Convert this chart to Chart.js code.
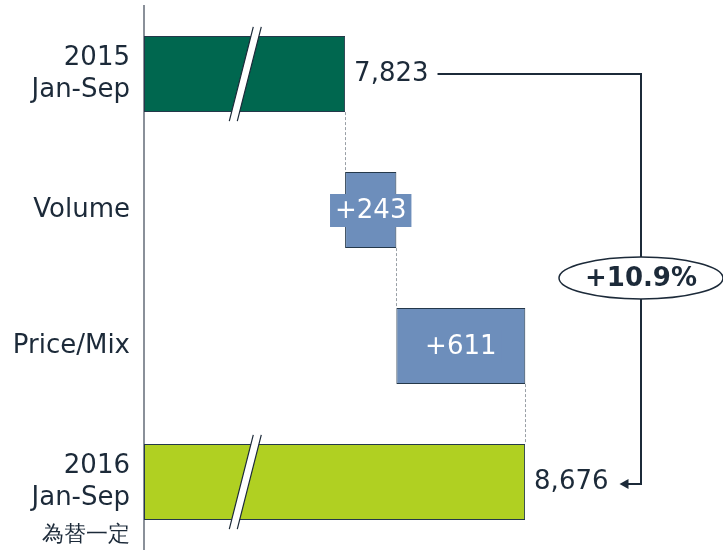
<!DOCTYPE html>
<html>
<head>
<meta charset="utf-8">
<script src="https://cdn.jsdelivr.net/npm/chart.js@4"></script>
<style>
  html, body { margin: 0; padding: 0; background: #fff; }
  #wrap { width: 723px; height: 550px; position: relative; }
</style>
</head>
<body>
<div id="wrap"><canvas id="grafico"></canvas></div>
<script>
// Datos del gráfico (cascada horizontal)
const categorias = [['2015', 'Jan-Sep'], 'Volume', 'Price/Mix', ['2016', 'Jan-Sep']];
const valorInicial = 7823;
const variaciones = [243, 611];
const valorFinal = 8676;
const etiquetas = ['7,823', '+243', '+611', '8,676'];
const nota = '為替一定';
const textoCrecimiento = '+10.9%';

// Escala con corte del eje
const ejeMin = 6870;
const ejeMax = 9614;
const valorCorte = 7350;

const colores = ['#00674f', '#6d8ebb', '#6d8ebb', '#b0d022'];
const colorTexto = '#1c2a39';
const fuente = '"DejaVu Sans", Verdana, sans-serif';

// Construir barras flotantes
const barras = [];
barras.push([ejeMin, valorInicial]);
let acumulado = valorInicial;
variaciones.forEach(v => {
    barras.push([acumulado, acumulado + v]);
    acumulado += v;
});
barras.push([ejeMin, valorFinal]);

const pluginDecoracion = {
    id: 'decoracion',
    afterDatasetsDraw(chart) {
        const ctx = chart.ctx;
        const meta = chart.getDatasetMeta(0);
        const x = chart.scales.x;
        const area = chart.chartArea;
        ctx.save();

        // Líneas punteadas de conexión
        ctx.strokeStyle = '#9aa0a6';
        ctx.lineWidth = 1;
        ctx.setLineDash([3, 2]);
        for (let i = 0; i < meta.data.length - 1; i++) {
            const a = meta.data[i], b = meta.data[i + 1];
            const px = Math.round(x.getPixelForValue(barras[i][1])) + 0.5;
            ctx.beginPath();
            ctx.moveTo(px, a.y + a.height / 2);
            ctx.lineTo(px, b.y - b.height / 2);
            ctx.stroke();
        }
        ctx.setLineDash([]);

        // Marcas de corte en las barras totales
        [0, meta.data.length - 1].forEach(i => {
            const el = meta.data[i];
            const cx = x.getPixelForValue(valorCorte);
            const top = el.y - el.height / 2 - 9;
            const bot = el.y + el.height / 2 + 9;
            const dx = 12, w = 8;
            ctx.beginPath();
            ctx.moveTo(cx + dx - w / 2, top);
            ctx.lineTo(cx + dx + w / 2, top);
            ctx.lineTo(cx - dx + w / 2, bot);
            ctx.lineTo(cx - dx - w / 2, bot);
            ctx.closePath();
            ctx.fillStyle = '#ffffff';
            ctx.fill();
            ctx.strokeStyle = colorTexto;
            ctx.lineWidth = 1.2;
            ctx.beginPath();
            ctx.moveTo(cx + dx - w / 2, top);
            ctx.lineTo(cx - dx - w / 2, bot);
            ctx.moveTo(cx + dx + w / 2, top);
            ctx.lineTo(cx - dx + w / 2, bot);
            ctx.stroke();
        });

        // Etiquetas de valores
        ctx.font = '26px ' + fuente;
        ctx.textBaseline = 'middle';
        meta.data.forEach((el, i) => {
            const fin = x.getPixelForValue(barras[i][1]);
            if (i === 0 || i === meta.data.length - 1) {
                ctx.fillStyle = colorTexto;
                ctx.textAlign = 'left';
                ctx.fillText(etiquetas[i], fin + 9, el.y);
            } else {
                const ini = x.getPixelForValue(barras[i][0]);
                const cx = (ini + fin) / 2;
                const ancho = ctx.measureText(etiquetas[i]).width + 10;
                ctx.fillStyle = colores[i];
                ctx.fillRect(cx - ancho / 2, el.y - 16, ancho, 33);
                ctx.fillStyle = '#ffffff';
                ctx.textAlign = 'center';
                ctx.fillText(etiquetas[i], cx, el.y + 1);
            }
        });

        // Flecha de crecimiento
        const primero = meta.data[0], ultimo = meta.data[meta.data.length - 1];
        const inicioLinea = x.getPixelForValue(valorInicial) + 9 + ctx.measureText(etiquetas[0]).width + 9;
        const bx = area.right - 82;
        const finFlecha = x.getPixelForValue(valorFinal) + 9 + ctx.measureText(etiquetas[3]).width + 11;
        ctx.strokeStyle = colorTexto;
        ctx.lineWidth = 2;
        ctx.beginPath();
        ctx.moveTo(inicioLinea, primero.y);
        ctx.lineTo(bx, primero.y);
        ctx.lineTo(bx, ultimo.y + 2);
        ctx.lineTo(finFlecha + 6, ultimo.y + 2);
        ctx.stroke();
        ctx.fillStyle = colorTexto;
        ctx.beginPath();
        ctx.moveTo(finFlecha, ultimo.y + 2);
        ctx.lineTo(finFlecha + 9, ultimo.y - 3);
        ctx.lineTo(finFlecha + 9, ultimo.y + 7);
        ctx.closePath();
        ctx.fill();

        // Elipse con porcentaje
        const ey = (meta.data[1].y + meta.data[2].y) / 2;
        ctx.beginPath();
        ctx.ellipse(bx, ey, 82, 21, 0, 0, Math.PI * 2);
        ctx.fillStyle = '#ffffff';
        ctx.fill();
        ctx.lineWidth = 1.5;
        ctx.stroke();
        ctx.fillStyle = colorTexto;
        ctx.font = 'bold 26px ' + fuente;
        ctx.textAlign = 'center';
        ctx.fillText(textoCrecimiento, bx, ey + 1);

        // Nota bajo la última categoría
        ctx.font = '22px ' + fuente;
        ctx.textAlign = 'right';
        ctx.fillText(nota, area.left - 14, ultimo.y + 53);

        ctx.restore();
    }
};

new Chart(document.getElementById('grafico').getContext('2d'), {
    type: 'bar',
    data: {
        labels: categorias,
        datasets: [{
            data: barras,
            backgroundColor: colores,
            borderColor: '#24384a',
            borderWidth: 1,
            borderSkipped: false,
            barPercentage: 0.56,
            categoryPercentage: 1
        }]
    },
    options: {
        indexAxis: 'y',
        responsive: true,
        maintainAspectRatio: false,
        animation: false,
        layout: { padding: { top: 6, right: 0, bottom: 0, left: 0 } },
        plugins: {
            legend: { display: false },
            tooltip: { enabled: false }
        },
        scales: {
            x: {
                display: false,
                min: ejeMin,
                max: ejeMax
            },
            y: {
                grid: { display: false, drawTicks: false },
                border: { display: true, color: '#8a9099', width: 2 },
                ticks: {
                    color: colorTexto,
                    font: { family: fuente, size: 26, lineHeight: 1.25 },
                    padding: 14
                },
                afterFit(scale) {
                    scale.width = 144;
                    scale.paddingTop = 0;
                    scale.paddingBottom = 0;
                }
            }
        }
    },
    plugins: [pluginDecoracion]
});
</script>
</body>
</html>
